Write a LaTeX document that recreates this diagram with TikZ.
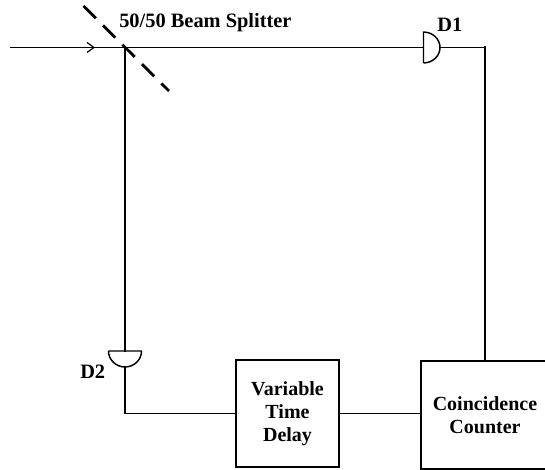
\documentclass[tikz,border=0pt]{standalone}
\usepackage{fontspec}
\setmainfont{Liberation Serif}
\begin{document}
\begin{tikzpicture}[x=0.75pt,y=-0.75pt,
  wire/.style={line width=1pt,line cap=rect},
  thickwire/.style={line width=1.6pt,line cap=rect},
  box/.style={draw,line width=1pt,inner sep=0pt,font=\bfseries\fontsize{15pt}{17.2pt}\selectfont,align=center},
  lab/.style={font=\bfseries\fontsize{15.3pt}{17.2pt}\selectfont,inner sep=0pt,anchor=base west},
  det/.style={inner sep=0pt,outer sep=0pt},
  detline/.style={line width=1.1pt},
  splitter/.style={line width=2.1pt,dash pattern=on 13pt off 7.6pt}]
\useasboundingbox (0,0) rectangle (545,470);
\fill[white] (0,0) rectangle (545,470);
\coordinate (in) at (11,47.5);
\coordinate (bs) at (125,47.5);
\coordinate (tip) at (94,47.5);
\coordinate (bsa) at (83.5,6);
\coordinate (bsb) at (169,91);
\node[det,minimum width=12.4pt,minimum height=23.2pt] (d1) at (431.75,47.5) {};
\node[det,minimum width=24.8pt,minimum height=12pt] (d2) at (125,359) {};
\node[box,minimum width=77.25pt,minimum height=80.25pt] (vtd) at (287.5,413.5) {Variable\\Time\\Delay};
\node[box,minimum width=96pt,minimum height=81pt,text width=90pt] (cc) at (485,415) {Coincidence\\Counter};
\coordinate (r1) at (cc.north |- d1.east);
\coordinate (l2) at (d2.south |- vtd.west);
% beam
\draw[wire] (in) -- (bs) -- (d1.west);
\draw[line width=0.9pt] ([shift={(-7,-5)}]tip) -- (tip) -- ([shift={(-7,5)}]tip);
\draw[thickwire] (bs) -- (d2.north);
\draw[splitter] (bsa) -- (bsb);
% detectors
\draw[detline,line join=round] (d1.south west) -- (d1.north west) .. controls ([xshift=6.8pt]d1.north west) and ([yshift=6.4pt]d1.east) .. (d1.east) .. controls ([yshift=-6.4pt]d1.east) and ([xshift=6.8pt]d1.south west) .. (d1.south west);
\draw[detline,line join=round] (d2.north west) -- (d2.north east) .. controls ([yshift=-6.6pt]d2.north east) and ([xshift=6.8pt]d2.south) .. (d2.south) .. controls ([xshift=-6.8pt]d2.south) and ([yshift=-6.6pt]d2.north west) .. (d2.north west);
% connectors
\draw[wire] (d1.east) -- (r1);
\draw[thickwire] (r1) -- (cc.north);
\draw[wire] (d2.south) -- (l2) -- (vtd.west);
\draw[wire,line cap=butt] (vtd.east) -- (vtd.east -| cc.west);
% labels
\node[lab] (bslabel) at (119,28) {50/50 Beam Splitter};
\node[lab] (d1label) at (437,32) {D1};
\node[lab] (d2label) at (80,378) {D2};
\end{tikzpicture}
\end{document}
